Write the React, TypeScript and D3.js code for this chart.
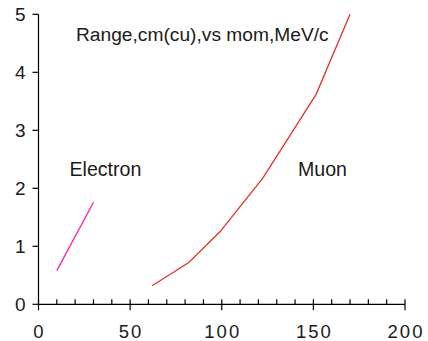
import React from "react";
import * as d3 from "d3";

const electronMom = [10, 30];
const electronRange = [0.58, 1.76];
const muonMom = [62, 82, 99, 122.5, 151.5, 170];
const muonRange = [0.32, 0.72, 1.25, 2.18, 3.62, 5.0];
const xTicks = [0, 50, 100, 150, 200];
const xMinorTicks = [10, 20, 30, 40, 60, 70, 80, 90, 110, 120, 130, 140, 160, 170, 180, 190];
const yTicks = [0, 1, 2, 3, 4, 5];
const title = "Range,cm(cu),vs mom,MeV/c";
const labels = ["Electron", "Muon"];

export default function App() {
  const W = 428, H = 341;
  const x = d3.scaleLinear().domain([0, 200]).range([38.5, 405]);
  const y = d3.scaleLinear().domain([0, 5]).range([304.3, 14.3]);
  const line = d3.line<[number, number]>().x(d => x(d[0])).y(d => y(d[1]));
  const eData: [number, number][] = electronMom.map((m, i) => [m, electronRange[i]]);
  const mData: [number, number][] = muonMom.map((m, i) => [m, muonRange[i]]);
  const font = "'Liberation Sans', Arial, sans-serif";
  const txt = "#1a1a1a";
  return (
    <svg width={W} height={H} style={{ position: "absolute", left: 0, top: 0, background: "#fff" }} fontFamily={font}>
      <rect width={W} height={H} fill="#fff" />
      {/* y axis */}
      <line x1={x(0)} x2={x(0)} y1={y(5)} y2={y(0)} stroke="#000" strokeWidth={1.2} />
      {yTicks.map(t => (
        <g key={"y" + t}>
          <line x1={x(0) - 6} x2={x(0)} y1={y(t)} y2={y(t)} stroke="#000" strokeWidth={1.2} />
          <text x={25.5} y={y(t)} dy="0.36em" textAnchor="end" fontSize={19} fill={txt}>{t}</text>
        </g>
      ))}
      {/* x axis */}
      <line x1={x(0)} x2={x(200)} y1={y(0)} y2={y(0)} stroke="#000" strokeWidth={1.2} />
      {xMinorTicks.map(t => (
        <line key={"xm" + t} x1={x(t)} x2={x(t)} y1={y(0) - 5} y2={y(0)} stroke="#000" strokeWidth={1.2} />
      ))}
      {xTicks.map(t => (
        <g key={"x" + t}>
          <line x1={x(t)} x2={x(t)} y1={y(0) - 5} y2={y(0) + 6} stroke="#000" strokeWidth={1.2} />
          <text x={x(t) + 1} y={338} textAnchor="middle" fontSize={18.5} letterSpacing={2} fill={txt}>{t}</text>
        </g>
      ))}
      {/* series */}
      <path d={line(eData) || ""} fill="none" stroke="#ff2aa0" strokeWidth={1.4} />
      <path d={line(mData) || ""} fill="none" stroke="#e0322c" strokeWidth={1.3} />
      {/* labels */}
      <text x={76} y={41} fontSize={19.2} fill={txt}>{title}</text>
      <text x={69.5} y={175.7} fontSize={19.6} fill={txt}>{labels[0]}</text>
      <text x={298} y={175.7} fontSize={19.6} fill={txt}>{labels[1]}</text>
    </svg>
  );
}
